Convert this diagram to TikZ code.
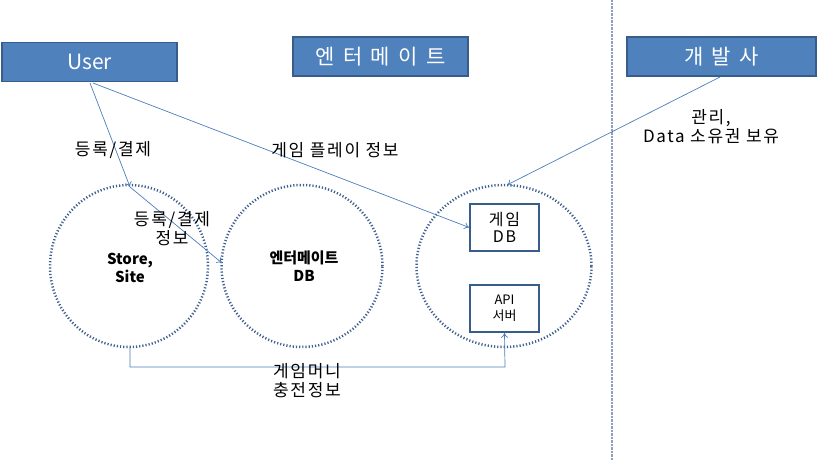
\documentclass[tikz,border=0pt]{standalone}
\usepackage{fontspec}
\setmainfont{Noto Sans CJK KR}
\newfontfamily\wideA[LetterSpace=40]{Noto Sans CJK KR}
\newfontfamily\wideB[LetterSpace=10]{Noto Sans CJK KR}
\usetikzlibrary{arrows.meta,shapes.geometric}
\definecolor{bfill}{HTML}{4F81BD}
\definecolor{bdraw}{HTML}{385D8A}
\definecolor{ln}{HTML}{4A7EBB}
\definecolor{dot}{HTML}{3F5F8F}
\tikzset{
 head/.style={draw=bdraw,line width=1.5pt,fill=bfill,text=white,font=\wideA\fontsize{21}{23}\selectfont},
 circ/.style={draw=dot,line width=2.5pt,dash pattern=on 1.2pt off 2pt,ellipse,inner sep=0pt},
 inbox/.style={draw=bdraw,line width=1.6pt,fill=white,minimum width=69pt,minimum height=47pt,align=center,font=\wideB\fontsize{16}{17}\selectfont,inner sep=1pt},
 lbl/.style={font=\wideB\fontsize{17}{19}\selectfont,align=center,inner sep=0pt},
 conn/.style={draw=ln,line width=0.7pt,-{To[length=5pt,width=7pt]}}
}
\begin{document}
\begin{tikzpicture}[x=1pt,y=-1pt]
\useasboundingbox (0,0) rectangle (819,460);
\draw[dot!60,line width=1.5pt,dash pattern=on 0.7pt off 0.7pt] (612,0) -- (612,460);
\node[head,minimum width=175pt,minimum height=39pt,font=\fontsize{21}{23}\selectfont] (user) at (89.5,62) {User};
\node[head,minimum width=175pt,minimum height=39pt] (ent) at (380.5,56.5) {엔터메이트};
\node[head,minimum width=189pt,minimum height=39pt] (dev) at (721.5,56.5) {개발사};
\node[circ,minimum width=158pt,minimum height=162pt] (c1) at (129,266) {};
\node[circ,minimum width=161pt,minimum height=162pt] (c2) at (302,266) {};
\node[circ,minimum width=175pt,minimum height=162pt] (c3) at (504,266) {};
\node[inbox] (gdb) at (504.5,227.5) {게임\\DB};
\node[inbox,font=\fontsize{13}{16}\selectfont] (api) at (504.5,308.5) {API\\서버};
\node[lbl,font=\fontsize{15}{18}\selectfont\bfseries] (store) at (130,268) {Store,\\Site};
\node[lbl,font=\fontsize{15}{18}\selectfont\bfseries] (edb) at (304,266) {엔터메이트\\DB};
\coordinate (u1) at (90,83);
\coordinate (u2) at (93,83);
\coordinate (c1t) at (130,187);
\coordinate (c2w) at (222,263);
\coordinate (d1) at (720,77);
\coordinate (c3t) at (507,185);
\coordinate (c1b) at (130,347);
\coordinate (bl) at (130,367);
\coordinate (br) at (505,367);
\draw[conn] (u1) -- (c1t);
\draw[conn] (c1t) -- (c2w);
\draw[conn] (u2) -- (gdb.west);
\draw[conn] (d1) -- (c3t);
\draw[conn] (c1b) -- (bl) -- (br) -- (api.south);
\node[lbl] (l1) at (113,150) {등록/결제};
\node[lbl] (l2) at (335,150) {게임 플레이 정보};
\node[lbl] (l3) at (172,229) {등록/결제\\정보};
\node[lbl] (l4) at (307,381) {게임머니\\충전정보};
\node[lbl] (l5) at (711,127) {관리,\\Data 소유권 보유};
\end{tikzpicture}
\end{document}
